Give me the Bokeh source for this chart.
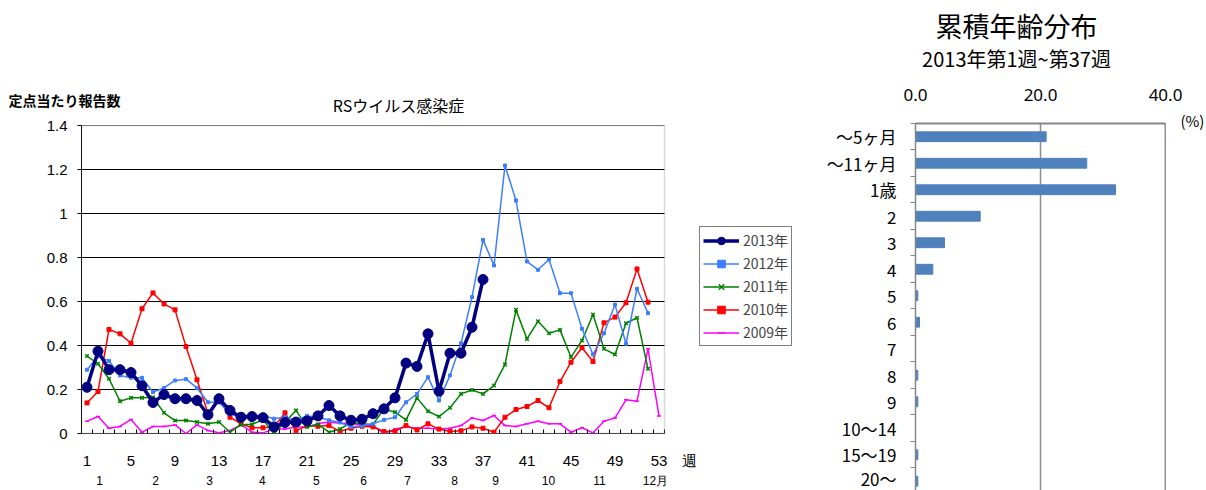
from bokeh.plotting import figure
from bokeh.models import (Range1d, FixedTicker, Legend, LegendItem, Label, Span, LinearAxis,
                          BoxAnnotation)
from bokeh.layouts import row
from bokeh.embed import file_html
from bokeh.resources import INLINE

# ---------------- data: left chart (reports per sentinel, by week) ----------------
weeks_2013 = list(range(1, 38))
rate_2013 = [0.21, 0.374, 0.29, 0.29, 0.277, 0.217, 0.141, 0.177, 0.158, 0.158,
             0.15, 0.085, 0.158, 0.105, 0.074, 0.077, 0.072, 0.03, 0.05, 0.052,
             0.057, 0.08, 0.127, 0.08, 0.06, 0.065, 0.09, 0.112, 0.162, 0.32,
             0.305, 0.453, 0.192, 0.365, 0.365, 0.483, 0.70]

weeks_2012 = list(range(1, 53))
rate_2012 = [0.29, 0.35, 0.33, 0.264, 0.253, 0.253, 0.188, 0.207, 0.241, 0.247,
             0.207, 0.142, 0.142, 0.089, 0.074, 0.082, 0.082, 0.067, 0.075, 0.06,
             0.08, 0.075, 0.06, 0.05, 0.03, 0.035, 0.044, 0.062, 0.074, 0.142,
             0.18, 0.256, 0.15, 0.264, 0.41, 0.62, 0.88, 0.764, 1.218, 1.059,
             0.782, 0.744, 0.791, 0.638, 0.638, 0.476, 0.359, 0.456, 0.586, 0.408,
             0.658, 0.547]

weeks_2011 = list(range(1, 53))
rate_2011 = [0.352, 0.317, 0.249, 0.147, 0.162, 0.162, 0.165, 0.094, 0.059, 0.059,
             0.052, 0.044, 0.052, 0.006, 0.04, 0.042, 0.062, 0.0, 0.052, 0.105,
             0.03, 0.041, 0.006, 0.02, 0.05, 0.044, 0.041, 0.112, 0.097, 0.062,
             0.162, 0.101, 0.077, 0.117, 0.18, 0.198, 0.18, 0.218, 0.314, 0.562,
             0.43, 0.51, 0.456, 0.471, 0.347, 0.423, 0.541, 0.385, 0.359, 0.501,
             0.526, 0.294]

weeks_2010 = list(range(1, 53))
rate_2010 = [0.139, 0.191, 0.473, 0.453, 0.41, 0.567, 0.639, 0.589, 0.562, 0.395,
             0.244, 0.092, 0.158, 0.074, 0.044, 0.026, 0.026, 0.03, 0.094, 0.012,
             0.036, 0.033, 0.036, 0.01, 0.024, 0.033, 0.03, 0.009, 0.01, 0.036,
             0.016, 0.044, 0.02, 0.009, 0.012, 0.03, 0.024, 0.006, 0.074, 0.109,
             0.123, 0.15, 0.117, 0.236, 0.324, 0.39, 0.327, 0.503, 0.529, 0.594,
             0.748, 0.597]

weeks_2009 = list(range(1, 54))
rate_2009 = [0.056, 0.077, 0.024, 0.032, 0.064, 0.006, 0.032, 0.032, 0.039, 0.0,
             0.039, 0.014, 0.003, 0.014, 0.039, 0.006, 0.003, 0.02, 0.02, 0.03,
             0.03, 0.045, 0.052, 0.047, 0.047, 0.036, 0.036, 0.0, 0.02, 0.03,
             0.024, 0.024, 0.02, 0.024, 0.036, 0.071, 0.059, 0.082, 0.036, 0.032,
             0.044, 0.056, 0.044, 0.044, 0.006, 0.026, 0.003, 0.056, 0.071, 0.153,
             0.147, 0.385, 0.079]

week_ticks = [1, 5, 9, 13, 17, 21, 25, 29, 33, 37, 41, 45, 49, 53]
week_tick_labels = ["1", "5", "9", "13", "17", "21", "25", "29", "33", "37", "41", "45", "49", "53"]
week_unit_label = "週"
y_ticks = [0, 0.2, 0.4, 0.6, 0.8, 1, 1.2, 1.4]
y_tick_labels = ["0", "0.2", "0.4", "0.6", "0.8", "1", "1.2", "1.4"]
month_labels = ["1", "2", "3", "4", "5", "6", "7", "8", "9", "10", "11", "12月"]

# ---------------- data: right chart (cumulative age distribution, %) ----------------
age_groups = ["～5ヶ月", "～11ヶ月", "1歳", "2", "3", "4", "5", "6", "7", "8", "9",
              "10～14", "15～19", "20～"]
age_share = [20.9, 27.4, 32.0, 10.35, 4.64, 2.77, 0.37, 0.64, 0.0, 0.37, 0.37, 0.0, 0.37, 0.37]
pct_ticks = [0, 20, 40]
pct_tick_labels = ["0.0", "20.0", "40.0"]

# ---------------- layout constants ----------------
month_pos = [2.14, 7.23, 12.14, 16.95, 21.86, 26.14, 30.14, 34.41, 38.14, 42.95, 47.59, 52.68]
week_unit_pos = 55.77
W0, W1 = 0.5, 53.5          # plot-area extent in weeks
JP = "Noto Sans CJK JP"
NUM = "Liberation Sans"


def no_frame_align(fig):
    try:
        fig.frame_align = False
    except Exception:
        pass


# ================= left chart =================
# frame extends to the right edge so that the legend can sit inside it;
# the plot area box (weeks 0.5 .. 53.5) is drawn explicitly
p = figure(width=800, height=490, output_backend="svg", toolbar_location=None,
           x_range=Range1d(W0, W0 + 719 / 11), y_range=Range1d(0, 1.4),
           min_border_left=81, min_border_right=0, min_border_top=125, min_border_bottom=57)
no_frame_align(p)
p.background_fill_color = "white"
p.outline_line_color = None
p.xgrid.visible = False
p.ygrid.visible = False

# horizontal gridlines across the plot area
p.segment(x0=[W0] * len(y_ticks), x1=[W1] * len(y_ticks), y0=y_ticks, y1=y_ticks,
          line_color="black", line_width=1)
# plot-area border (grey top/right)
p.add_layout(BoxAnnotation(left=W0, right=W1, bottom=0, top=1.4, fill_color=None,
                           line_color="#808080", line_width=1.5))
p.segment(x0=[W0], x1=[W1], y0=[0], y1=[0], line_color="black", line_width=1)

p.yaxis.ticker = FixedTicker(ticks=y_ticks)
p.yaxis.major_label_overrides = dict(zip(y_ticks, y_tick_labels))
p.yaxis.axis_line_color = "black"
p.yaxis.major_tick_line_color = "black"
p.yaxis.major_tick_out = 4
p.yaxis.major_tick_in = 0
p.yaxis.minor_tick_line_color = None
p.yaxis.major_label_standoff = 10
p.yaxis.major_label_text_font = NUM
p.yaxis.major_label_text_font_size = "15px"
p.yaxis.major_label_text_color = "black"

p.xaxis.ticker = FixedTicker(ticks=week_ticks + [week_unit_pos],
                             minor_ticks=[w - 0.5 for w in range(1, 55)])
p.xaxis.major_label_overrides = dict(zip(week_ticks + [week_unit_pos],
                                         week_tick_labels + [week_unit_label]))
p.xaxis.axis_line_color = None
p.xaxis.major_tick_line_color = None
p.xaxis.major_tick_in = 0
p.xaxis.major_tick_out = 0
p.xaxis.minor_tick_line_color = "black"
p.xaxis.minor_tick_in = 4
p.xaxis.minor_tick_out = 0
p.xaxis.major_label_standoff = 18
p.xaxis.axis_label_standoff = 0
p.xaxis.major_label_text_font = NUM
p.xaxis.major_label_text_font_size = "15px"
p.xaxis.major_label_text_color = "black"

month_axis = LinearAxis(ticker=FixedTicker(ticks=month_pos),
                        major_label_overrides=dict(zip(month_pos, month_labels)))
month_axis.axis_line_color = None
month_axis.major_tick_line_color = None
month_axis.minor_tick_line_color = None
month_axis.major_tick_in = 0
month_axis.major_tick_out = 0
month_axis.major_label_standoff = 2
month_axis.axis_label_standoff = 0
month_axis.major_label_text_font = NUM
month_axis.major_label_text_font_size = "12px"
month_axis.major_label_text_color = "black"
p.add_layout(month_axis, "below")

l09 = p.line(weeks_2009, rate_2009, line_color="#FF00FF", line_width=1.5)
s09 = p.scatter(weeks_2009, rate_2009, marker="dash", size=4, line_color="#FF00FF", line_width=1.5)
l10 = p.line(weeks_2010, rate_2010, line_color="#FF0000", line_width=1.5)
s10 = p.scatter(weeks_2010, rate_2010, marker="square", size=4, color="#FF0000")
l11 = p.line(weeks_2011, rate_2011, line_color="#008000", line_width=1.5)
s11 = p.scatter(weeks_2011, rate_2011, marker="x", size=5, line_color="#008000", line_width=1.5)
l12 = p.line(weeks_2012, rate_2012, line_color="#3D7DFF", line_width=1.5)
s12 = p.scatter(weeks_2012, rate_2012, marker="square", size=3, color="#3D7DFF")
l13 = p.line(weeks_2013, rate_2013, line_color="#000080", line_width=3.5)
s13 = p.scatter(weeks_2013, rate_2013, marker="circle", size=10, color="#000080")

legend = Legend(items=[
    LegendItem(label="2013年", renderers=[l13, s13]),
    LegendItem(label="2012年", renderers=[l12, s12]),
    LegendItem(label="2011年", renderers=[l11, s11]),
    LegendItem(label="2010年", renderers=[l10, s10]),
    LegendItem(label="2009年", renderers=[l09, s09]),
], location=(618, 87))
legend.border_line_color = "black"
legend.border_line_width = 1
legend.background_fill_color = "white"
legend.padding = 3
legend.margin = 0
legend.spacing = 3
legend.glyph_width = 36
legend.glyph_height = 19
legend.label_height = 19
legend.label_standoff = 4
legend.label_text_font = JP
legend.label_text_font_size = "14px"
legend.label_text_baseline = "middle"
p.add_layout(legend, "center")

p.add_layout(Label(x=-6.14, y=1.514, text="定点当たり報告数", text_align="left",
                   text_baseline="middle", text_font=JP, text_font_size="14px",
                   text_font_style="bold", text_color="black"), "above")
p.add_layout(Label(x=29.32, y=1.491, text="RSウイルス感染症", text_align="center",
                   text_baseline="middle", text_font=JP, text_font_size="16px",
                   text_color="black"), "above")

# ================= right chart =================
idx = list(range(len(age_groups)))
q = figure(width=406, height=490, output_backend="svg", toolbar_location=None,
           x_range=Range1d(0, 40), y_range=Range1d(13.35, -0.5), x_axis_location="above",
           min_border_left=115, min_border_right=41, min_border_top=123, min_border_bottom=0)
no_frame_align(q)
q.outline_line_color = None
q.background_fill_color = "white"

q.hbar(y=idx, right=age_share, left=0, height=0.37, fill_color="#4F81BD", line_color="#4F81BD")

q.ygrid.visible = False
q.xgrid.ticker = FixedTicker(ticks=[20])
q.xgrid.grid_line_color = "#8C8C8C"
q.xgrid.grid_line_width = 1.5
q.add_layout(Span(location=40, dimension="height", line_color="#222222", line_width=1.5))

q.xaxis.ticker = FixedTicker(ticks=pct_ticks)
q.xaxis.major_label_overrides = dict(zip(pct_ticks, pct_tick_labels))
q.xaxis.axis_line_color = "#868686"
q.xaxis.axis_line_width = 2
q.xaxis.major_tick_line_color = None
q.xaxis.minor_tick_line_color = None
q.xaxis.major_tick_out = 0
q.xaxis.major_tick_in = 0
q.xaxis.major_label_standoff = 23
q.xaxis.major_label_text_font = "Noto Sans"
q.xaxis.major_label_text_font_size = "17px"
q.xaxis.major_label_text_color = "black"

q.yaxis.ticker = FixedTicker(ticks=idx, minor_ticks=[i - 0.5 for i in range(len(age_groups) + 1)])
q.yaxis.major_label_overrides = dict(zip(idx, age_groups))
q.yaxis.axis_line_color = "#868686"
q.yaxis.axis_line_width = 1.5
q.yaxis.major_tick_line_color = None
q.yaxis.major_tick_out = 0
q.yaxis.major_tick_in = 0
q.yaxis.minor_tick_line_color = "#868686"
q.yaxis.minor_tick_out = 5
q.yaxis.minor_tick_in = 0
q.yaxis.major_label_standoff = 14
q.yaxis.major_label_text_font = JP
q.yaxis.major_label_text_font_size = "17px"
q.yaxis.major_label_text_color = "black"

q.add_layout(Label(x=16.16, y=-4.213, text="累積年齢分布", text_align="center",
                   text_baseline="middle", text_font=JP, text_font_size="27px",
                   text_color="black"), "above")
q.add_layout(Label(x=16.16, y=-2.97, text="2013年第1週~第37週", text_align="center",
                   text_baseline="middle", text_font=JP, text_font_size="20px",
                   text_color="black"), "above")
q.add_layout(Label(x=44.3, y=-0.6, text="(%)", text_align="center",
                   text_baseline="middle", text_font=JP, text_font_size="15px",
                   text_color="black"), "right")

layout = row(p, q)
open("out.html", "w").write(file_html(layout, INLINE))
